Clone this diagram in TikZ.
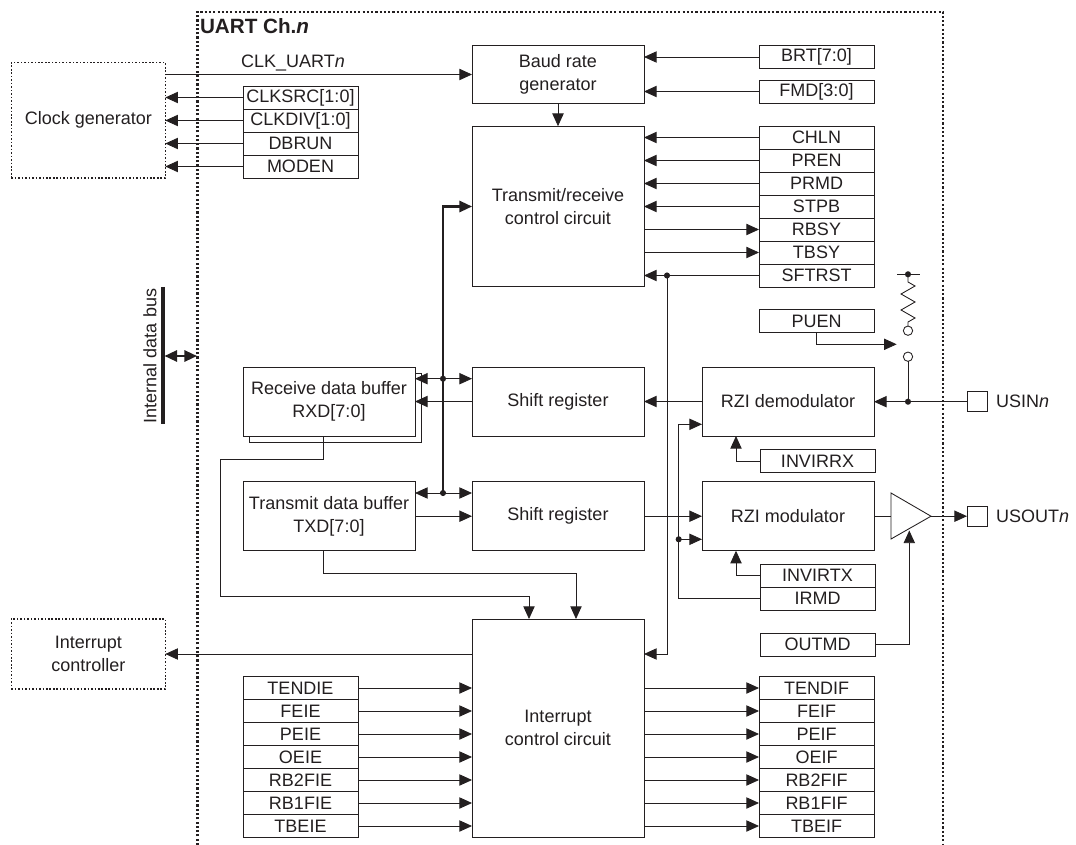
\documentclass[tikz,border=0pt]{standalone}
\usepackage{fontspec}
\setmainfont{Liberation Sans}
\usetikzlibrary{arrows.meta,calc}
\definecolor{ink}{HTML}{231F20}
\tikzset{
  x=0.75pt,y=-0.75pt,
  every node/.style={inner sep=0pt,outer sep=0pt,text=ink,align=center,font=\fontsize{13.5}{17.25}\selectfont},
  arr/.style={-{Triangle[length=9.5pt,width=8.5pt]}},
  biarr/.style={{Triangle[length=9.5pt,width=8.5pt]}-{Triangle[length=9.5pt,width=8.5pt]}},
  reg/.style={draw,minimum width=86.25pt,minimum height=17.25pt},
  blockb/.style={draw,minimum width=129pt},
  dotted box/.style={draw,line width=0.9pt,dash pattern=on 1.2pt off 1.4pt,minimum width=115.5pt},
  junction/.style={circle,fill=ink,draw=none,minimum size=4.6pt},
  openc/.style={circle,draw,fill=white,minimum size=7pt},
  pin/.style={draw,minimum width=15pt,minimum height=15pt},
  thickl/.style={line width=1.6pt},
}
\begin{document}
\begin{tikzpicture}[color=ink,line width=0.65pt]
\useasboundingbox (0,0) rectangle (1076,845);
% outer frame
\coordinate (fb1) at (197.5,845);
\coordinate (ft1) at (197.5,11.7);
\coordinate (ft2) at (943,11.7);
\coordinate (fb2) at (943,845);
\draw[line width=1.6pt,dash pattern=on 1.6pt off 1.6pt] (fb1) -- (ft1) -- (ft2) -- (fb2);
\node[anchor=west,font=\fontsize{15.5}{18}\selectfont\bfseries] (title) at (200,26) {UART Ch.\textit{n}};

% left dotted boxes
\node[dotted box,minimum height=86.6pt] (clk) at (88.3,120.3) {Clock generator};
\node[dotted box,minimum height=52.5pt] (intc) at (88.3,654) {Interrupt\\controller};

% clock registers
\node[reg] (clksrc) at (300.5,97.5) {CLKSRC[1:0]};
\node[reg] (clkdiv) at (300.5,120.5) {CLKDIV[1:0]};
\node[reg] (dbrun) at (300.5,143.5) {DBRUN};
\node[reg] (moden) at (300.5,166.5) {MODEN};
\foreach \r in {clksrc,clkdiv,dbrun,moden}
  \draw[arr] (\r.west) -- (clk.east |- \r.west);

% main blocks
\node[blockb,minimum height=43.25pt] (baud) at (558,74.5) {Baud rate\\generator};
\node[blockb,minimum height=120.5pt] (trans) at (558,206.5) {Transmit/receive\\control circuit};
\node[blockb,minimum height=51.75pt] (sr1) at (558,401.5) {Shift register};
\node[blockb,minimum height=51.75pt] (sr2) at (558,516.2) {Shift register};
\node[blockb,minimum height=163.5pt] (intr) at (558,728) {Interrupt\\control circuit};
\node[blockb,minimum height=51.75pt] (dem) at (788,401.5) {RZI demodulator};
\node[blockb,minimum height=51.75pt] (mod) at (788,516.2) {RZI modulator};

% buffers
\node[blockb,minimum height=51.75pt] (rxback) at (335,407.5) {};
\node[blockb,minimum height=51.75pt,fill=white] (rxd) at (329,401.5) {Receive data buffer\\RXD[7:0]};
\node[blockb,minimum height=51.75pt] (txd) at (329,516.2) {Transmit data buffer\\TXD[7:0]};

% clock line
\draw[arr] (clk.east |- baud.west) coordinate (clko) -- (baud.west);
\node (clklabel) at (293,63.5) {CLK\_UART\textit{n}};

% top right registers
\node[reg] (brt) at (816.5,57) {BRT[7:0]};
\node[reg] (fmd) at (816.5,91.5) {FMD[3:0]};
\draw[arr] (brt.west) -- (baud.east |- brt.west);
\draw[arr] (fmd.west) -- (baud.east |- fmd.west);
\draw[arr] (baud.south) -- (trans.north);

\node[reg] (chln) at (816.5,137.5) {CHLN};
\node[reg] (pren) at (816.5,160.5) {PREN};
\node[reg] (prmd) at (816.5,183.5) {PRMD};
\node[reg] (stpb) at (816.5,206.5) {STPB};
\node[reg] (rbsy) at (816.5,229.5) {RBSY};
\node[reg] (tbsy) at (816.5,252.5) {TBSY};
\node[reg] (sftrst) at (816.5,275.5) {SFTRST};
\foreach \r in {chln,pren,prmd,stpb}
  \draw[arr] (\r.west) -- (trans.east |- \r.west);
\foreach \r in {rbsy,tbsy}
  \draw[arr] (trans.east |- \r.west) -- (\r.west);
\draw[arr] (sftrst.west) -- (trans.east |- sftrst.west);

% reset branch
\node[junction] (jrst) at (667,275.5) {};
\coordinate (rstc) at (667,654);
\draw[arr] (jrst.center) -- (rstc) -- (intr.east |- rstc);

% internal bus
\draw[line width=3pt] (163,287) coordinate (bus1) -- (163,424) coordinate (bus2);
\node[rotate=90] (buslabel) at (150,356) {Internal data bus};
\coordinate (busm) at (164.5,356);
\coordinate (fm) at (197,356);
\draw[biarr,thickl] (busm) -- (fm);

% data bus inside
\node[junction] (j1) at (443,378.7) {};
\node[junction] (j2) at (443,493) {};
\coordinate (bend) at (443,206.5);
\draw[arr,thickl] (j2.center) -- (bend) -- (trans.west |- bend);
\draw[biarr] (rxd.east |- j1) -- (sr1.west |- j1);
\draw[biarr] (txd.east |- j2) -- (sr2.west |- j2);
\draw[arr] (sr1.west) -- (rxd.east);
\draw[arr] (txd.east) -- (sr2.west);
\draw[arr] (dem.west) -- (sr1.east);
\draw[arr] (sr2.east) -- (mod.west);

% buffers to interrupt block
\coordinate (rxs) at (323,436);
\coordinate (txs) at (323,550.7);
\draw[arr] (rxs) -- (323,459) -- (220,459) -- (220,596.4) -- (529,596.4) -- (529,619);
\draw[arr] (txs) -- (323,573.4) -- (576,573.4) -- (576,619);

% interrupt lines
\draw[arr] (intr.west |- intc.east) -- (intc.east);
\foreach \n/\t/\yy in {a/TENDIE/688,b/FEIE/711,c/PEIE/734,d/OEIE/757,e/RB2FIE/780,f/RB1FIE/803,g/TBEIE/826}{
  \node[reg] (l\n) at (300.5,\yy) {\t};
  \draw[arr] (l\n.east) -- (intr.west |- l\n.east);
}
\foreach \n/\t/\yy in {a/TENDIF/688,b/FEIF/711,c/PEIF/734,d/OEIF/757,e/RB2FIF/780,f/RB1FIF/803,g/TBEIF/826}{
  \node[reg] (r\n) at (816.5,\yy) {\t};
  \draw[arr] (intr.east |- r\n.west) -- (r\n.west);
}

% right side registers
\node[reg] (puen) at (816.5,321.3) {PUEN};
\node[reg] (invrx) at (817.5,461.2) {INVIRRX};
\node[reg] (invtx) at (817.5,575.8) {INVIRTX};
\node[reg] (irmd) at (817.5,598.8) {IRMD};
\node[reg] (outmd) at (817.5,644.8) {OUTMD};
\coordinate (invrxc) at (736,461.2);
\coordinate (invtxc) at (736,575.8);
\draw[arr] (invrx.west) -- (invrxc) -- (736,436);
\draw[arr] (invtx.west) -- (invtxc) -- (736,550.7);
\node[junction] (jir) at (678.7,539.3) {};
\coordinate (ira) at (678.7,598.8);
\coordinate (irb) at (678.7,424.3);
\draw[arr] (irmd.west) -- (ira) -- (irb) -- (dem.west |- irb);
\draw[arr] (jir.center) -- (mod.west |- jir);

% pull-up switch
\node[junction] (jtop) at (908,274.3) {};
\coordinate (tl) at (897,274.3);
\coordinate (tr) at (919.5,274.3);
\draw (tl) -- (tr);
\node[openc] (sw1) at (908,330.7) {};
\node[openc] (sw2) at (908,356.7) {};
\draw (jtop.center) -- (908,282) -- (915,286) -- (901,294) -- (915,302) -- (901,310) -- (915,318) -- (908,322) -- (sw1.north);
\coordinate (pueno) at (816.7,344.3);
\coordinate (swin) at (896.7,344.3);
\draw[arr] (puen.south -| pueno) -- (pueno) -- (swin);

% pins
\node[pin] (usin) at (977,401.7) {};
\node[pin] (usout) at (977,516.2) {};
\node[anchor=west] (usinl) at (996,401.7) {USIN\textit{n}};
\node[anchor=west] (usoutl) at (996,516.2) {USOUT\textit{n}};
\node[junction] (jin) at (908,401.7) {};
\draw[arr] (usin.west) -- (dem.east |- usin.west);
\draw (sw2.south) -- (jin.center);

% output buffer
\coordinate (b1) at (891,493);
\coordinate (b2) at (891,539);
\coordinate (b3) at (931,516.2);
\coordinate (b4) at (891,516.2);
\draw (b1) -- (b2) -- (b3) -- cycle;
\draw (mod.east) -- (b4);
\draw[arr] (b3) -- (usout.west);
\coordinate (oc) at (909.3,644.8);
\coordinate (bt) at (909.3,530.5);
\draw[arr] (outmd.east) -- (oc) -- (bt);
\end{tikzpicture}
\end{document}
